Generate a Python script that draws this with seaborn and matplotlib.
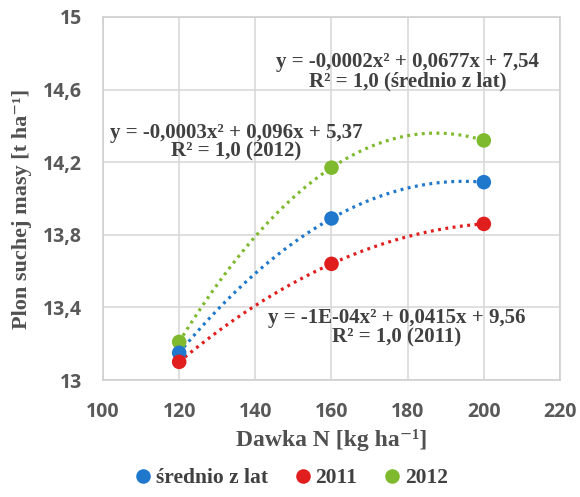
import numpy as np
import pandas as pd
import matplotlib
matplotlib.use("Agg")
import matplotlib.pyplot as plt
import seaborn as sns

# ---- data ----
dawka = [120, 160, 200]
srednio = [13.15, 13.89, 14.09]
y2011 = [13.10, 13.64, 13.86]
y2012 = [13.21, 14.17, 14.32]
series_names = ["średnio z lat", "2011", "2012"]
colors = ["#1f78cc", "#e01e1e", "#7fba2e"]
x_ticks = [100, 120, 140, 160, 180, 200, 220]
y_ticks = [13.0, 13.4, 13.8, 14.2, 14.6, 15.0]
y_ticklabels = ["13", "13,4", "13,8", "14,2", "14,6", "15"]
eq_texts = [
    "y = -0,0002x² + 0,0677x + 7,54\nR² = 1,0 (średnio z lat)",
    "y = -1E-04x² + 0,0415x + 9,56\nR² = 1,0 (2011)",
    "y = -0,0003x² + 0,096x + 5,37\nR² = 1,0 (2012)",
]

df = pd.DataFrame({
    "x": dawka * 3,
    "y": srednio + y2011 + y2012,
    "seria": [series_names[0]] * 3 + [series_names[1]] * 3 + [series_names[2]] * 3,
})

sns.set_theme(style="white")
serif = ["Liberation Serif", "DejaVu Serif"]
plt.rcParams["font.family"] = ["Open Sans", "DejaVu Sans"]

fig = plt.figure(figsize=(5.8, 4.97), dpi=100)
ax = fig.add_axes([0.1776, 0.2354, 0.7879, 0.7304])

palette = dict(zip(series_names, colors))

# trendlines (2nd-order polynomial)
for name in series_names:
    sub = df[df["seria"] == name]
    sns.regplot(data=sub, x="x", y="y", order=2, ci=None, scatter=False, ax=ax,
                line_kws=dict(color=palette[name], lw=2.3, ls=(0, (0.9, 1.4)),
                              dash_capstyle="butt"))

# points: draw 2012 first, then średnio, then 2011 on top
draw_order = ["2012", "średnio z lat", "2011"]
df_draw = pd.concat([df[df["seria"] == n] for n in draw_order])
sns.scatterplot(data=df_draw, x="x", y="y", hue="seria", hue_order=series_names,
                palette=palette, s=110, edgecolor="none", ax=ax, zorder=5,
                legend=True)

ax.set_xlim(100, 220)
ax.set_ylim(13, 15)
ax.set_xticks(x_ticks)
ax.set_yticks(y_ticks)
ax.set_yticklabels(y_ticklabels)
ax.tick_params(axis="both", labelsize=14, colors="#595959", length=0)
ax.tick_params(axis="x", pad=16)
ax.tick_params(axis="y", pad=15)
for lab in ax.get_xticklabels() + ax.get_yticklabels():
    lab.set_fontweight("bold")
ax.grid(True, color="#d9d9d9", lw=1.2)
for sp in ax.spines.values():
    sp.set_color("#d0d0d0")
    sp.set_linewidth(1.2)

ax.set_xlabel("Dawka N [kg ha⁻¹]", family=serif, fontweight="bold", fontsize=17,
              color="#505050")
ax.set_ylabel("Plon suchej masy [t ha⁻¹]", family=serif, fontweight="bold", fontsize=16,
              color="#505050")
ax.xaxis.set_label_coords(0.5, -0.135)
ax.yaxis.set_label_coords(-0.155, 0.47)

txt_kw = dict(family=serif, fontweight="bold", fontsize=15, color="#404040",
              ha="center", va="center", linespacing=0.95)
ax.text(180.0, 14.70, eq_texts[0], **txt_kw)
ax.text(177.1, 13.286, eq_texts[1], **txt_kw)
ax.text(134.9, 14.31, eq_texts[2], **txt_kw)

leg = ax.legend(loc="center", bbox_to_anchor=(0.414, -0.27), ncol=3, frameon=False,
                handlelength=0.6, handletextpad=0.3, columnspacing=1.3, markerscale=1.0,
                prop=dict(family=serif, weight="bold", size=15.5))
for t in leg.get_texts():
    t.set_color("#404040")

fig.savefig("out.png", dpi=100)
